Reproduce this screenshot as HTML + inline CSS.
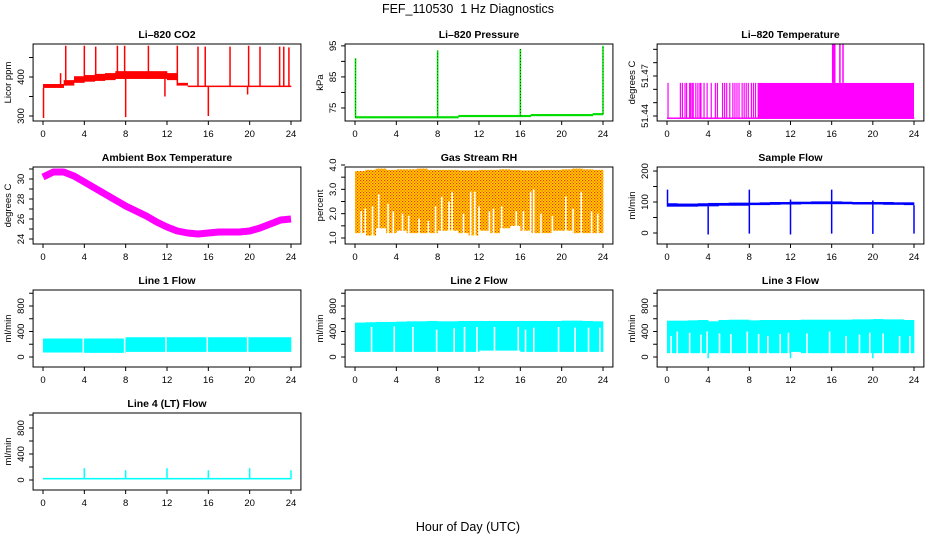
<!DOCTYPE html>
<html><head><meta charset="utf-8"><style>
html,body{margin:0;padding:0;background:#fff;}
svg{display:block;font-family:"Liberation Sans",Arial,sans-serif;}
</style></head><body>
<svg id="fig" width="936" height="540" viewBox="0 0 936 540">
<text x="468" y="13" text-anchor="middle" font-size="12.5" style="white-space:pre">FEF_110530&#160; 1 Hz Diagnostics</text>
<text x="468" y="531" text-anchor="middle" font-size="12.5">Hour of Day (UTC)</text>
<defs>
<pattern id="rhpat" width="3" height="3" patternUnits="userSpaceOnUse">
<rect width="3" height="3" fill="#ffd700"/><rect x="0" y="0" width="1.2" height="1.2" fill="#ff2a00"/><rect x="1.5" y="1.5" width="1.2" height="1.2" fill="#ff4000"/>
</pattern>
</defs>
</svg>
<script>
// ---- data (hours 0..24) ----
const hours = [0,1,2,3,4,5,6,7,8,9,10,11,12,13,14,15,16,17,18,19,20,21,22,23,24];
const xTicks = [0,4,8,12,16,20,24];
// CO2
const co2Lo = [372,372,378,385,388,390,392,395,395,395,395,395,392,378,375,375,375,375,375,375,375,375,375,375,372];
const co2Hi = [382,382,392,402,405,408,410,415,415,415,415,415,410,385,378,378,378,378,378,378,378,378,378,378,376];
const co2SpikeT = [2.2,4.0,5.1,7.2,7.9,10.2,13.0,15.0,15.7,18.1,19.9,21.0,22.9,23.3,23.8,0.05,8.0,16.0,1.7,11.8,19.8];
const co2SpikeV = [480,480,478,480,480,480,480,478,478,478,480,478,478,478,476,295,297,300,410,350,355];
// Pressure
const presBase = [72,72,72,72,72,72,72,72,72,72,72.4,72.4,72.4,72.4,72.4,72.4,72.4,72.7,72.7,72.7,72.7,72.7,72.7,73,73];
const presSpikeT = [0.05,8.0,16.0,24.0];
const presSpikeV = [91,93.5,94,95];
// Li-820 temperature
const tempLo = 51.4385;
const tempHi = 51.4648;
const tempSpikeT = [0.1,1.3,1.5,1.75,1.9,2.2,2.3,2.45,2.55,2.8,3.0,3.2,3.3,3.6,3.9,4.3,4.7,4.9,5.4,5.6,5.8,6.1,6.4,6.6,6.8,7.0,7.3,7.5,7.7,7.9,8.2,8.4,8.6];
const tempSolidStart = 8.8;
const tempTopT = [16.1,16.2,16.3,16.8,17.1];
const tempTopV = [51.494,51.494,51.494,51.494,51.494];
// Ambient box temperature
const ambMid = [30.2,30.7,30.7,30.3,29.7,29.1,28.5,27.9,27.3,26.8,26.3,25.7,25.2,24.8,24.6,24.5,24.6,24.7,24.7,24.7,24.8,25.1,25.5,25.9,26.0];
// Gas stream RH
const rhLo = [1.2,1.1,1.4,1.2,1.3,1.2,1.2,1.2,1.3,1.3,1.2,1.1,1.3,1.2,1.4,1.5,1.3,1.2,1.2,1.3,1.3,1.2,1.2,1.2,1.3];
const rhHi = [3.75,3.8,3.85,3.8,3.82,3.82,3.85,3.8,3.8,3.8,3.78,3.78,3.8,3.8,3.82,3.8,3.78,3.78,3.8,3.8,3.82,3.85,3.82,3.8,3.75];
const rhGapT = [0.6,1.0,1.7,2.3,3.2,3.7,4.6,5.2,6.2,7.1,7.8,8.4,9.1,9.4,10.5,11.2,11.6,12.0,13.0,13.4,14.2,15.6,16.3,17.0,17.3,18.0,19.1,20.4,21.1,21.9,22.9,23.5];
const rhGapV = [2.1,2.2,2.3,2.8,2.4,2.1,2.0,1.9,1.8,1.7,2.3,2.7,2.5,2.9,2.0,2.9,2.9,2.3,2.1,2.2,2.3,2.1,2.1,2.9,3.0,2.0,1.9,2.7,2.2,2.9,2.1,2.0];
// Sample flow
const sfLo = [85,85,85,86,86,88,88,88,90,90,91,92,92,93,93,93,93,93,92,92,92,91,91,90,90];
const sfHi = [96,95,95,96,97,97,98,98,98,99,100,100,101,101,102,102,102,101,100,100,100,100,99,99,98];
const sfSpikeT = [4.0,8.0,12.0,16.0,20.0,24.0,0.05,8.0,12.0,16.0,20.0];
const sfSpikeV = [-5,-2,-5,-2,-3,-2,140,140,108,140,105];
// Line flows
const l1Lo = [70,70,70,70,65,65,65,65,80,80,80,80,80,80,80,80,80,80,80,80,80,80,80,80,80];
const l1Hi = [290,290,290,290,290,290,290,290,310,310,310,310,310,310,310,310,310,310,310,310,310,310,310,310,260];
const l1GapT = [3.9,7.9,11.9,15.9,19.8];
const l2Lo = [80,80,80,80,80,80,80,80,80,80,80,80,100,100,100,100,80,80,80,80,80,80,80,80,400];
const l2Hi = [540,545,550,550,555,560,560,565,560,560,565,565,565,565,565,565,565,565,565,565,570,570,565,560,500];
const l2GapT = [1.6,3.8,5.6,7.9,9.6,10.6,11.8,13.5,15.8,16.5,17.3,19.7,21.3,22.6,23.7];
const l2GapV = [470,480,470,430,450,470,470,470,470,430,460,470,460,460,460];
const l3Lo = [60,60,60,60,60,60,60,60,60,60,60,60,80,60,60,60,60,60,60,60,60,60,60,60,280];
const l3Hi = [570,570,575,580,560,580,585,585,575,580,580,580,580,585,585,585,585,585,590,590,595,590,590,580,400];
const l3GapT = [0.4,1.0,2.2,3.3,3.9,5.1,6.2,7.8,8.9,9.8,11.0,11.8,13.6,15.8,17.4,18.7,19.7,21.0,22.6,23.6];
const l3GapV = [330,400,380,350,400,370,360,400,360,330,360,380,370,400,330,350,380,370,330,330];
const lDipT = [4.0,12.0,20.0];
const lDipV = [-20,-20,-20];
const l4Base = 20;
const l4SpikeT = [4.0,8.0,12.0,16.0,20.0,24.0];
const l4SpikeV = [180,150,180,150,180,150];

const svg = document.getElementById('fig');
const NS = 'http://www.w3.org/2000/svg';
function mk(tag, attrs, parent){
  const e = document.createElementNS(NS, tag);
  for (const k in attrs) e.setAttribute(k, attrs[k]);
  (parent||svg).appendChild(e);
  return e;
}
const cols = [{x0:43,x24:291},{x0:355,x24:603},{x0:667,x24:914}];
const rowsTop = [44,167,290,413];
const H = 77;

function panel(name, title, ylab, col, row, ymin, ymax, ticks, labels, fmt){
  const g = mk('g', {});
  
  
  const c = cols[col], top = rowsTop[row], bot = top + H;
  const k = (c.x24 - c.x0)/24;
  const L = c.x0 - 0.96*k, R = c.x24 + 0.96*k;
  const sx = t => c.x0 + t*k;
  const sy = v => bot - (v - ymin)/(ymax - ymin)*H;
  const clip = mk('clipPath', {id:'clip-'+name}, g);
  mk('rect', {x:L, y:top, width:R-L, height:H}, clip);
  const plot = mk('g', {'clip-path':'url(#clip-'+name+')'}, g);
  
  
  const fr = mk('rect', {x:L, y:top, width:R-L, height:H, fill:'none', stroke:'#000', 'stroke-width':1}, g);
  
  
  const tt = mk('text', {x:(L+R)/2, y:top-6, 'text-anchor':'middle', 'font-size':10.5, 'font-weight':'bold'}, g);
  tt.textContent = title;
  
  
  xTicks.forEach(t => {
    mk('line', {x1:sx(t), x2:sx(t), y1:bot, y2:bot+4, stroke:'#000'}, g);
    const lb = mk('text', {x:sx(t), y:bot+16, 'text-anchor':'middle', 'font-size':9.5}, g);
    lb.textContent = t;
    
    
  });
  ticks.forEach(v => {
    mk('line', {x1:L, x2:L-4, y1:sy(v), y2:sy(v), stroke:'#000'}, g);
  });
  labels.forEach(v => {
    const lb = mk('text', {x:0, y:0, 'text-anchor':'middle', 'font-size':9.5, transform:`translate(${L-9},${sy(v)}) rotate(-90)`}, g);
    lb.textContent = fmt ? fmt(v) : v;
    
    
  });
  const yl = mk('text', {x:0, y:0, 'text-anchor':'middle', 'font-size':9.5, transform:`translate(${L-22},${(top+bot)/2}) rotate(-90)`}, g);
  yl.textContent = ylab;
  
  
  return {plot, sx, sy, k};
}
function band(p, lo, hi, color, nm){
  for (let i=0;i<hours.length-1;i++){
    const l = Array.isArray(lo)?lo[i]:lo, h = Array.isArray(hi)?hi[i]:hi;
    const r = mk('rect', {x:p.sx(hours[i]), y:p.sy(h), width:p.sx(hours[i+1])-p.sx(hours[i])+0.3, height:Math.max(1.5,p.sy(l)-p.sy(h)), fill:color}, p.plot);
    
    
  }
}
function valAt(arr, t){ return arr[Math.min(arr.length-1, Math.floor(t))]; }
function vline(p, t, v1, v2, color, w, nm){
  const l = mk('line', {x1:p.sx(t), x2:p.sx(t), y1:p.sy(v1), y2:p.sy(v2), stroke:color, 'stroke-width':w}, p.plot);
  
  
}

let p = panel('co2-panel','Li\u2013820 CO2','Licor ppm',0,0,287.2,484.6,[300,350,400,450],[300,400]);
band(p, co2Lo, co2Hi, '#ff0000', 'co2-band');
co2SpikeT.forEach((t,i)=>vline(p,t,valAt(co2Lo,t),co2SpikeV[i],'#ff0000',1.5,'co2-spike'));

p = panel('pressure-panel','Li\u2013820 Pressure','kPa',1,0,70.8,95.6,[75,80,85,90,95],[75,85,95]);
band(p, presBase.map(v=>v-0.35), presBase.map(v=>v+0.35), '#00dd00', 'pressure-line');
presSpikeT.forEach((t,i)=>{vline(p,t,valAt(presBase,t),presSpikeV[i],'#00ee00',1.6,'pressure-spike');
  const l=mk('line',{x1:p.sx(t),x2:p.sx(t),y1:p.sy(valAt(presBase,t)),y2:p.sy(presSpikeV[i]),stroke:'#000','stroke-width':0.6,'stroke-dasharray':'1 2'},p.plot);
  
  });

p = panel('li820-temp-panel','Li\u2013820 Temperature','degrees C',2,0,51.43625,51.494,[51.44,51.45,51.46,51.47,51.48,51.49],[51.44,51.47],v=>v.toFixed(2));
band(p, tempLo-0.0004, tempLo+0.0004, '#ff00ff', 'li820-temp-base');
tempSpikeT.forEach(t=>vline(p,t,tempLo,tempHi,'#ff00ff',1.2,'li820-temp-flip'));
{const r=mk('rect',{x:p.sx(tempSolidStart),y:p.sy(tempHi),width:p.sx(24)-p.sx(tempSolidStart),height:p.sy(tempLo)-p.sy(tempHi),fill:'#ff00ff'},p.plot);
 
 }
tempTopT.forEach((t,i)=>vline(p,t,tempHi,tempTopV[i],'#ff00ff',1.5,'li820-temp-spike'));

p = panel('ambient-panel','Ambient Box Temperature','degrees C',0,1,23.5,31.2,[24,25,26,27,28,29,30,31],[24,26,28,30]);
{const pts=hours.map((t,i)=>p.sx(t)+','+p.sy(ambMid[i])).join(' ');
 const pl=mk('polyline',{points:pts,fill:'none',stroke:'#ff00ff','stroke-width':7,'stroke-linejoin':'round'},p.plot);
 
 }

p = panel('rh-panel','Gas Stream RH','percent',1,1,0.753,3.918,[1,1.5,2,2.5,3,3.5,4],[1,2,3,4],v=>v.toFixed(1));
band(p, rhLo, rhHi, 'url(#rhpat)', 'rh-band');
rhGapT.forEach((t,i)=>vline(p,t,valAt(rhLo,t)-0.2,rhGapV[i],'#fff',1.6,'rh-gap'));

p = panel('sample-flow-panel','Sample Flow','ml/min',2,1,-35.5,213,[0,50,100,150,200],[0,100,200]);
band(p, sfLo, sfHi, '#0000ff', 'sample-flow-band');
sfSpikeT.forEach((t,i)=>vline(p,t,valAt(sfLo,t),sfSpikeV[i],'#0000ff',1.5,'sample-flow-spike'));

const lt=[0,200,400,600,800,1000], ll=[0,400,800];
p = panel('line1-panel','Line 1 Flow','ml/min',0,2,-157,1051,lt,ll);
band(p, l1Lo, l1Hi, '#00ffff', 'line1-band');
l1GapT.forEach(t=>vline(p,t,-50,valAt(l1Hi,t)+30,'#fff',1.5,'line1-gap'));

p = panel('line2-panel','Line 2 Flow','ml/min',1,2,-157,1051,lt,ll);
band(p, l2Lo, l2Hi, '#00ffff', 'line2-band');
l2GapT.forEach((t,i)=>vline(p,t,valAt(l2Lo,t)-10,l2GapV[i],'#fff',1.6,'line2-gap'));

p = panel('line3-panel','Line 3 Flow','ml/min',2,2,-157,1051,lt,ll);
band(p, l3Lo, l3Hi, '#00ffff', 'line3-band');
l3GapT.forEach((t,i)=>vline(p,t,valAt(l3Lo,t)-10,l3GapV[i],'#fff',1.6,'line3-gap'));
lDipT.forEach((t,i)=>vline(p,t,valAt(l3Lo,t),lDipV[i],'#00ffff',1.5,'line3-dip'));

p = panel('line4-panel','Line 4 (LT) Flow','ml/min',0,3,-154,1031,lt,ll);
band(p, l4Base-12, l4Base+12, '#00ffff', 'line4-base');
l4SpikeT.forEach((t,i)=>vline(p,t,l4Base,l4SpikeV[i],'#00ffff',1.5,'line4-spike'));
</script>
</body></html>
